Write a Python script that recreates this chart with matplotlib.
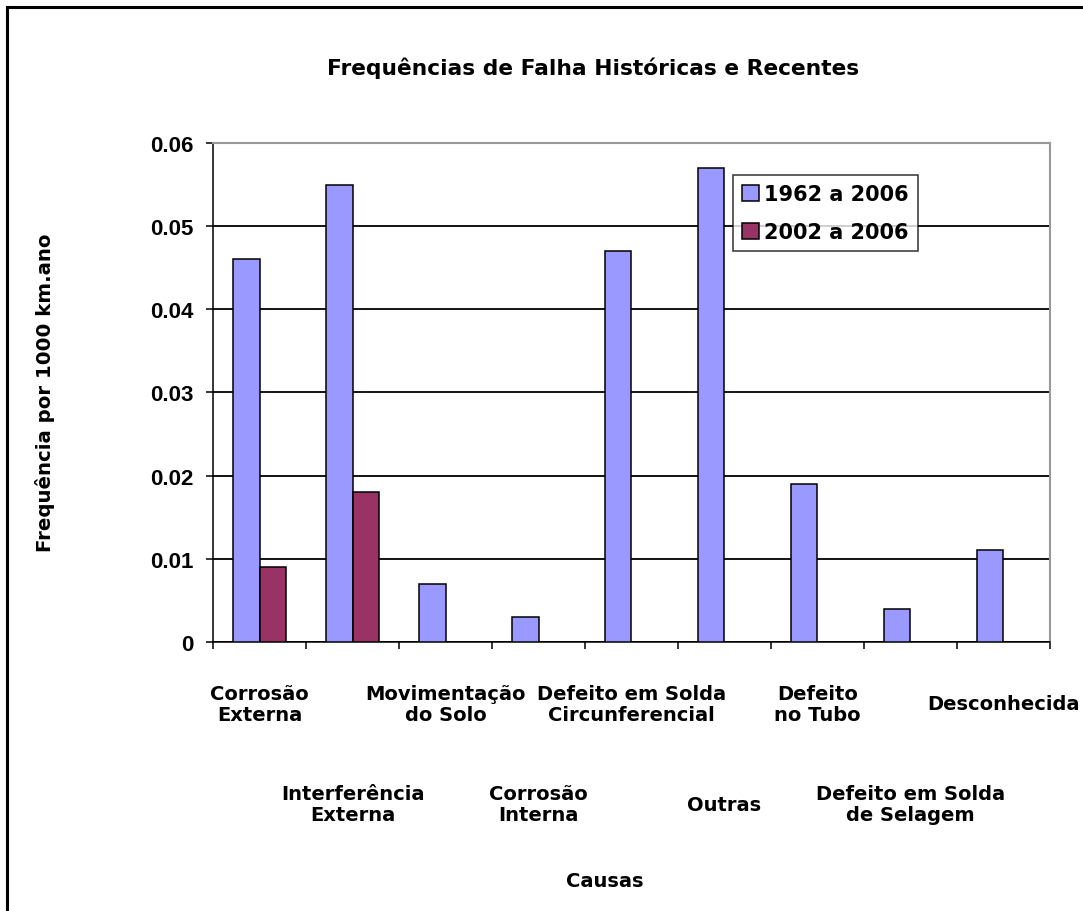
import numpy as np
import matplotlib.pyplot as plt
from matplotlib.lines import Line2D

# failure causes, two reporting periods
causes = [
    "Corrosão\nExterna",
    "Interferência\nExterna",
    "Movimentação\ndo Solo",
    "Corrosão\nInterna",
    "Defeito em Solda\nCircunferencial",
    "Outras",
    "Defeito\nno Tubo",
    "Defeito em Solda\nde Selagem",
    "Desconhecida",
]
freq_1962_2006 = [0.046, 0.055, 0.007, 0.003, 0.047, 0.057, 0.019, 0.004, 0.011]
freq_2002_2006 = [0.009, 0.018, 0, 0, 0, 0, 0, 0, 0]
series_labels = ["1962 a 2006", "2002 a 2006"]
y_ticks = [0, 0.01, 0.02, 0.03, 0.04, 0.05, 0.06]
y_tick_labels = ["0", "0.01", "0.02", "0.03", "0.04", "0.05", "0.06"]

BLUE = "#9999FF"
MAROON = "#993366"
BODY_FONT = ["DejaVu Sans"]


def main():
    fig = plt.figure(figsize=(10.83, 9.12), dpi=100)
    ax = fig.add_axes([0.1967, 0.2950, 0.7728, 0.5471])

    x = np.arange(len(causes))
    w = 0.2857
    ax.bar(x - w / 2, freq_1962_2006, w, color=BLUE, edgecolor="black",
           linewidth=1.1, label=series_labels[0], zorder=3)
    ax.bar(x + w / 2, freq_2002_2006, w, color=MAROON, edgecolor="black",
           linewidth=1.1, label=series_labels[1], zorder=3)

    ax.set_xlim(-0.5, len(causes) - 0.5)
    ax.set_ylim(0, 0.06)

    ax.set_yticks(y_ticks)
    ax.set_yticklabels(y_tick_labels, fontsize=16, fontweight="bold",
                       family=["Liberation Sans", "DejaVu Sans"])
    ax.yaxis.grid(True, color="black", linewidth=1.3, zorder=0)
    ax.set_axisbelow(True)

    # category boundaries carry the ticks, labels sit in two staggered rows
    ax.set_xticks(np.arange(len(causes) + 1) - 0.5)
    ax.set_xticklabels([])
    ax.tick_params(axis="both", direction="out", length=5, width=1.1,
                   color="black", pad=9)

    for i, label in enumerate(causes):
        y = -0.124 if i % 2 == 0 else -0.325
        ax.text(i, y, label, transform=ax.get_xaxis_transform(),
                ha="center", va="center", multialignment="center",
                fontsize=14, fontweight="bold", family=BODY_FONT,
                linespacing=1.1)

    for side in ("left", "bottom"):
        ax.spines[side].set_color("black")
        ax.spines[side].set_linewidth(1.1)
    for side in ("top", "right"):
        ax.spines[side].set_color("#999999")
        ax.spines[side].set_linewidth(1.5)

    leg = ax.legend(loc="upper left", bbox_to_anchor=(0.621, 0.936),
                    borderaxespad=0, frameon=True, fancybox=False,
                    edgecolor="black", handlelength=0.8, handleheight=0.8,
                    handletextpad=0.25, labelspacing=0.85, borderpad=0.45,
                    prop={"family": BODY_FONT, "weight": "bold", "size": 15})
    leg.get_frame().set_linewidth(1.1)

    fig.text(0.548, 0.9254, "Frequências de Falha Históricas e Recentes",
             ha="center", va="center", fontsize=15.7, fontweight="bold",
             family=BODY_FONT)
    fig.text(0.0415, 0.569, "Frequência por 1000 km.ano", rotation=90,
             ha="center", va="center", fontsize=14.2, fontweight="bold",
             family=BODY_FONT)
    fig.text(0.5585, 0.033, "Causas", ha="center", va="center",
             fontsize=14, fontweight="bold", family=BODY_FONT)

    # outer frame, open towards the right and bottom
    fig.add_artist(Line2D([0.0065, 1.0], [0.9912, 0.9912],
                          transform=fig.transFigure, color="black", linewidth=2.2))
    fig.add_artist(Line2D([0.0065, 0.0065], [0.0, 0.9912],
                          transform=fig.transFigure, color="black", linewidth=2.2))

    fig.savefig("out.png", dpi=100)


if __name__ == "__main__":
    main()
